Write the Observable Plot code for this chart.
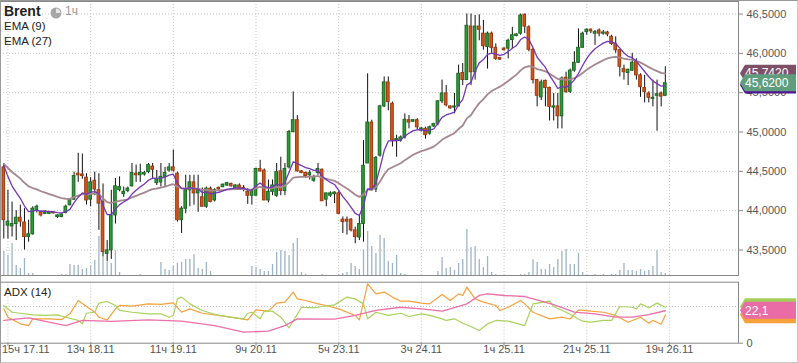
<!DOCTYPE html>
<html><head><meta charset="utf-8">
<script src="https://cdn.jsdelivr.net/npm/d3@7"></script>
<script src="https://cdn.jsdelivr.net/npm/@observablehq/plot@0.6"></script>
<style>
body{margin:0;background:#fff;}
#chart{position:relative;width:798px;height:363px;font-family:"Liberation Sans",Arial,sans-serif;overflow:hidden;background:#fff;}
#chart > svg.layer{position:absolute;left:0;top:0;}
.lg{position:absolute;white-space:nowrap;font-size:11.5px;color:#222;line-height:13px;}
#border{position:absolute;left:0;top:0;width:798px;height:363px;box-sizing:border-box;border:1px solid #c8c8c8;border-left-color:#999;border-top-color:#999;pointer-events:none;}
</style></head><body><div id="chart"></div>
<script>
// ---- data (hourly Brent candles, bar index 0..160) ----
const open = [44.55,43.81,43.80,43.83,43.91,43.85,43.665,43.70,44.00,43.98,
 43.96,43.96,43.98,43.92,43.92,43.97,44.07,44.14,44.47,44.46,
 44.42,44.14,44.38,44.26,44.11,43.45,43.495,43.94,44.26,44.21,
 44.25,44.31,44.47,44.45,44.46,44.49,44.56,44.35,44.36,44.43,
 44.51,44.55,44.47,43.88,44.025,44.26,44.36,44.22,44.17,44.05,
 44.28,44.13,44.29,44.30,44.32,44.34,44.29,44.32,44.29,44.24,
 44.19,44.19,44.53,44.51,44.13,44.24,44.19,44.50,44.25,44.55,
 45.00,45.15,44.50,44.48,44.45,44.38,44.48,44.52,44.14,44.19,
 44.21,44.22,43.885,43.885,43.885,43.75,43.66,43.83,44.60,45.12,
 44.27,44.70,45.325,45.63,45.36,44.89,44.89,44.93,45.15,45.13,
 45.15,45.02,45.04,44.98,45.07,45.105,45.39,45.49,45.325,45.31,
 45.325,45.75,45.66,46.34,45.76,46.34,46.25,46.08,46.25,46.07,
 45.94,46.06,46.06,46.17,46.22,46.25,46.49,46.33,46.045,45.66,
 45.44,45.65,45.56,45.31,45.325,45.20,45.69,45.51,45.78,45.88,
 46.07,46.27,46.30,46.25,46.29,46.25,46.265,46.21,46.12,46.04,
 45.80,45.75,45.78,45.89,45.72,45.56,45.49,45.42,45.46,45.49,
 45.46];
const high = [44.60,44.26,44.11,44.00,44.07,44.025,43.88,44.05,44.07,44.00,
 44.00,43.99,43.99,43.95,43.96,44.07,44.15,44.49,44.73,44.72,
 44.47,44.42,44.49,44.47,44.34,43.62,44.26,44.41,44.43,44.30,
 44.30,44.60,44.58,44.59,44.50,44.60,44.60,44.51,44.60,44.55,
 44.60,44.77,44.49,44.05,44.45,44.45,44.45,44.45,44.29,44.30,
 44.30,44.28,44.30,44.34,44.36,44.35,44.33,44.34,44.32,44.28,
 44.26,44.54,44.64,44.53,44.39,44.39,44.60,44.68,44.60,45.02,
 45.51,45.21,44.51,44.49,44.51,44.45,44.60,44.53,44.22,44.24,
 44.24,44.24,43.92,43.92,43.90,43.79,43.94,44.89,45.74,45.15,
 44.69,45.34,45.70,45.70,45.38,44.96,44.95,45.23,45.21,45.16,
 45.17,45.06,45.06,45.075,45.11,45.40,45.66,45.59,45.33,45.49,
 45.85,45.87,46.50,46.50,46.48,46.49,46.42,46.27,46.27,46.12,
 45.95,46.07,46.18,46.33,46.25,46.50,46.50,46.35,46.06,45.67,
 45.66,45.66,45.57,45.49,45.49,45.70,45.76,45.80,46.02,46.31,
 46.27,46.31,46.31,46.29,46.31,46.29,46.28,46.23,46.21,46.045,
 45.85,45.80,46.00,45.93,45.74,45.72,45.51,45.66,45.66,45.51,
 45.83];
const low = [43.64,43.64,43.665,43.62,43.79,43.50,43.60,43.69,43.97,43.92,
 43.95,43.95,43.96,43.90,43.91,43.96,44.06,44.13,44.36,44.40,
 44.07,44.05,44.19,43.75,43.41,43.35,43.38,43.83,44.24,44.17,
 44.23,44.30,44.36,44.36,44.44,44.47,44.41,44.32,44.30,44.30,
 44.49,44.49,43.855,43.71,43.96,44.05,44.07,43.98,44.05,44.03,
 44.10,44.11,44.26,44.29,44.31,44.30,44.28,44.26,44.24,44.08,
 44.07,44.19,44.49,44.13,44.10,44.19,44.17,44.19,44.19,44.53,
 44.99,44.49,44.47,44.41,44.39,44.36,44.45,44.12,44.05,44.17,
 44.09,43.95,43.71,43.69,43.73,43.58,43.62,43.60,44.60,44.25,
 44.23,44.68,45.31,45.27,44.81,44.68,44.87,44.91,45.04,45.12,
 45.02,45.00,44.91,44.96,45.06,45.08,45.36,45.32,45.29,45.23,
 45.32,45.59,45.66,45.59,45.66,46.16,46.04,45.80,46.00,45.91,
 45.91,46.03,45.93,46.06,46.21,46.23,46.25,46.02,45.61,45.32,
 45.40,45.32,45.14,45.14,45.04,45.04,45.49,45.49,45.76,45.87,
 46.07,46.23,46.25,46.10,46.21,46.23,46.21,46.10,46.00,45.70,
 45.66,45.59,45.77,45.66,45.44,45.37,45.37,45.32,45.01,45.32,
 45.45];
const close = [43.88,43.86,43.83,43.91,43.86,43.665,43.70,44.025,44.05,43.94,
 43.99,43.98,43.965,43.94,43.95,44.05,44.14,44.44,44.45,44.44,
 44.13,44.36,44.27,44.09,43.475,43.495,43.94,44.31,44.30,44.24,
 44.28,44.48,44.45,44.48,44.48,44.58,44.52,44.40,44.43,44.48,
 44.55,44.51,43.88,44.025,44.26,44.36,44.22,44.26,44.05,44.28,
 44.11,44.26,44.27,44.33,44.35,44.31,44.32,44.28,44.27,44.19,
 44.25,44.53,44.50,44.13,44.24,44.32,44.49,44.25,44.53,45.00,
 45.15,44.50,44.48,44.44,44.48,44.43,44.53,44.12,44.22,44.22,
 44.23,43.96,43.855,43.86,43.75,43.665,43.83,44.57,45.12,44.26,
 44.67,45.325,45.63,45.38,44.89,44.91,44.93,45.155,45.12,45.15,
 45.06,45.045,44.96,45.06,45.10,45.39,45.49,45.34,45.30,45.325,
 45.74,45.66,46.35,45.76,46.34,46.30,46.09,46.25,46.07,45.93,
 45.92,46.04,46.16,46.23,46.24,46.48,46.34,46.045,45.66,45.46,
 45.63,45.56,45.32,45.325,45.20,45.68,45.51,45.78,45.88,46.07,
 46.25,46.30,46.28,46.27,46.25,46.265,46.24,46.12,46.04,45.83,
 45.76,45.79,45.88,45.72,45.57,45.51,45.435,45.435,45.48,45.45,
 45.62];
const volume = [24,20,32,10,7,17,2,2,0,0,
 0,0,0,0,1,1,11,10,10,6,
 7,10,15,39,18,13,12,25,3,0,
 0,0,0,1,0,0,0,0,13,6,
 5,9,12,13,16,16,21,7,6,13,
 4,0,0,0,0,0,0,0,0,0,
 9,8,6,4,4,11,23,25,24,20,
 32,37,3,1,0,0,0,1,0,0,
 0,1,2,3,12,9,6,26,44,29,
 22,40,37,14,12,20,2,1,0,0,
 0,0,0,0,0,4,18,7,8,5,
 12,16,46,28,29,16,8,19,3,1,
 0,0,0,0,0,1,1,3,16,13,
 6,6,11,8,16,24,26,11,11,22,
 3,0,0,1,0,1,0,1,1,5,
 12,5,5,4,6,4,5,9,25,3,
 2];
// EMA values just before the first visible bar: [EMA(9), EMA(27)]
const emaSeed = [44.75, 44.65];

// ADX(14) panel, read at selected bars
const adxBar = [0,6,15,19,26,35,43,51,58,64,68,71,80,85,90,96,101,106,108,112,115,117,121,126,130,133,138,143,148,152,156,160];
const adxVal = [15.5,17.3,12.0,15.5,14.8,15.9,15.0,12.0,7.5,8.2,12.0,16.6,16.4,18.9,22.3,24.5,23.4,21.8,23.4,26.8,32.5,33.6,32.5,31.8,28.6,26.3,21.1,20.0,17.7,17.7,19.5,22.1];
const plusDiBar = [0,1,4,6,7,11,14,16,18,20,22,23,25,27,28,31,35,38,41,43,45,48,52,56,59,61,64,66,68,70,71,73,76,78,81,85,86,88,90,92,94,96,98,101,103,106,108,110,111,112,114,116,119,120,122,125,126,128,132,135,137,139,142,145,148,151,154,156,157,159,160];
const plusDiVal = [23.4,17.7,13.2,12.0,16.6,16.6,16.1,20.0,29.1,25.0,21.1,17.7,15.9,23.4,25.7,25.2,26.8,26.4,27.5,21.1,23.4,20.4,18.9,17.3,15.9,22.7,21.8,27.3,28.0,34.8,30.2,29.1,26.8,25.7,23.4,18.9,15.9,40.4,33.6,34.8,31.4,28.6,28.6,27.3,26.8,33.2,29.1,33.6,32.5,38.2,30.2,28.0,25.7,22.3,24.5,29.1,26.8,21.1,16.6,17.7,16.6,22.7,21.8,21.1,18.9,14.3,17.7,13.6,15.5,12.9,19.1];
const minusDiBar = [0,2,4,7,10,13,15,18,19,20,22,23,25,27,28,31,35,38,40,41,42,43,45,48,52,56,58,59,60,62,63,65,67,69,72,75,77,80,83,85,87,88,90,93,96,98,101,103,106,107,109,111,113,115,117,119,122,126,128,132,133,136,140,142,145,147,149,152,153,154,156,158,160];
const minusDiVal = [25.7,21.1,20.4,19.3,18.9,19.3,17.7,15.5,13.2,20.4,21.1,27.3,28.4,25.7,22.3,21.1,20.0,20.0,17.7,18.9,30.2,31.4,26.8,22.3,18.9,17.3,16.6,20.4,21.1,16.6,21.8,21.8,17.7,10.5,24.5,24.1,25.0,26.1,31.4,30.2,26.8,16.6,21.1,18.9,20.4,18.2,20.0,18.9,16.6,15.5,16.6,13.6,11.4,8.6,13.2,15.5,15.0,12.0,26.8,28.6,25.0,21.1,15.0,14.3,15.5,15.5,25.0,24.5,23.4,26.8,24.1,27.3,24.5];

const tickBars = [1,21,41,61,81,101,121,141,161];
const tickLabels = ["15ч 17.11","13ч 18.11","11ч 19.11","9ч 20.11","5ч 23.11","3ч 24.11","1ч 25.11","21ч 25.11","19ч 26.11"];
const priceTicks = [43.5,44,44.5,45,45.5,46,46.5];

// ---- derived ----
function ema(values, n, seed){ const a = 2/(n+1); let e = seed; return values.map(v => (e = e + a*(v - e))); }
const ema9 = ema(close, 9, emaSeed[0]);
const ema27 = ema(close, 27, emaSeed[1]);
const idx = d3.range(close.length);
const last = close.length - 1;

const W = 798, H = 363;
const xDomain = [-0.8, 177.7];
const font = "Liberation Sans, Arial, sans-serif";
const baseStyle = {background: "transparent", fontFamily: font, fontSize: "11px", color: "#555", overflow: "visible"};
const fmt4 = d => d.toFixed(4).replace(".", ",");
const fmt1 = d => d.toFixed(1).replace(".", ",");
const dotted = {stroke: "#c4c4c4", strokeOpacity: 1, strokeDasharray: "1,2"};

function tag(value, color, text, h){
  return (index, scales, values, dims) => {
    const y = scales.y(value);
    const x0 = dims.width - dims.marginRight + 2;
    const x1 = dims.width - 2;
    const g = d3.create("svg:g");
    g.append("path").attr("d", `M${x0},${y}L${x0+5},${y-h/2}H${x1}V${y+h/2}H${x0+5}Z`).attr("fill", color);
    if (text) g.append("text").attr("x", x0+5).attr("y", y).attr("dy", "0.36em")
      .attr("text-anchor", "start")
      .attr("fill", "#fff").attr("font-size", 12).attr("font-family", font).text(text);
    return g.node();
  };
}

const up = i => close[i] >= open[i];

const volPlot = Plot.plot({
  width: W, height: H, marginLeft: 0, marginRight: 60, marginTop: 1, marginBottom: 88,
  x: {domain: xDomain, axis: null},
  y: {domain: [0, 50], range: [275, 225], axis: null},
  style: {...baseStyle, background: "#fff"},
  marks: [
    Plot.ruleX(idx.filter(i => volume[i] > 0), {x: i => i, y1: 0, y2: i => volume[i], stroke: "#9fb3c6", strokeWidth: 1.3})
  ]
});

const mainPlot = Plot.plot({
  width: W, height: H, marginLeft: 0, marginRight: 60, marginTop: 1, marginBottom: 88,
  x: {domain: xDomain, axis: null},
  y: {domain: [43.176, 46.659], axis: null},
  style: baseStyle,
  marks: [
    Plot.gridY(priceTicks, dotted),
    Plot.gridX(tickBars, dotted),
    Plot.ruleX(idx, {x: i => i, y1: i => low[i], y2: i => high[i], stroke: "#111", strokeWidth: 1}),
    Plot.rect(idx, {x1: i => i - 0.32, x2: i => i + 0.32,
      y1: i => Math.min(open[i], close[i]), y2: i => Math.max(open[i], close[i]),
      fill: i => up(i) ? "#2f9a3a" : "#d4561e", stroke: i => up(i) ? "#1b6a22" : "#9c3a10", strokeWidth: 1}),
    Plot.line(idx, {x: i => i, y: i => ema27[i], stroke: "#a4878f", strokeWidth: 1.8}),
    Plot.line(idx, {x: i => i, y: i => ema9[i], stroke: "#7436b8", strokeWidth: 1.3}),
    Plot.frame({stroke: "#888"}),
    Plot.axisY(priceTicks, {anchor: "right", tickSize: 4, tickPadding: 4, tickFormat: fmt4, fill: "#555", stroke: "#888", fontSize: 11}),
    tag(ema27[last], "#7e5068", fmt4(ema27[last]), 17),
    tag(ema9[last], "#4e1594", fmt4(ema9[last]), 17),
    tag(close[last], "#5f9e7c", fmt4(close[last]), 17)
  ]
});

const adxPlot = Plot.plot({
  width: W, height: H, marginLeft: 0, marginRight: 60, marginTop: 281.7, marginBottom: 20.3,
  x: {domain: xDomain, axis: null},
  y: {domain: [0, 41.55], axis: null},
  style: baseStyle,
  marks: [
    Plot.gridY([25], dotted),
    Plot.gridX(tickBars, dotted),
    Plot.line(plusDiBar, {x: d => d, y: (d, i) => plusDiVal[i], stroke: "#f6a13b", strokeWidth: 1.2}),
    Plot.line(minusDiBar, {x: d => d, y: (d, i) => minusDiVal[i], stroke: "#a8d25c", strokeWidth: 1.2}),
    Plot.line(adxBar, {x: d => d, y: (d, i) => adxVal[i], stroke: "#ec6fa9", strokeWidth: 1.3}),
    Plot.frame({stroke: "#888"}),
    Plot.axisY([0], {anchor: "right", tickSize: 4, tickPadding: 4, tickFormat: d => "0", fill: "#555", stroke: "#888", fontSize: 11}),
    Plot.axisX(tickBars, {tickSize: 3, tickFormat: () => "", stroke: "#888"}),
    Plot.text(tickLabels.slice(0, 1), {x: () => tickBars[0], frameAnchor: "bottom", dy: 10, dx: -6, textAnchor: "start", fill: "#555", fontSize: 11}),
    Plot.text(tickLabels.slice(1), {x: (d, i) => tickBars[i + 1], frameAnchor: "bottom", dy: 10, textAnchor: "middle", fill: "#555", fontSize: 11}),
    tag(plusDiVal[plusDiVal.length - 1], "#f6a13b", "", 17),
    tag(minusDiVal[minusDiVal.length - 1], "#a3cf58", "", 17),
    tag(adxVal[adxVal.length - 1], "#e96ca6", fmt1(adxVal[adxVal.length - 1]), 17)
  ]
});

const chart = document.getElementById("chart");
for (const p of [volPlot, mainPlot, adxPlot]) { p.classList.add("layer"); chart.appendChild(p); }

const legend = document.createElement("div");
legend.innerHTML = `
<div class="lg" style="left:4px;top:3px;font-weight:bold;font-size:14px;line-height:16px;">Brent</div>
<svg style="position:absolute;left:50px;top:7px" width="12" height="12"><circle cx="6" cy="6" r="5.5" fill="#a6a6a6"/><path d="M6,6V1.5A4.5,4.5 0 0 1 10.5,6Z" fill="#e6e6e6"/></svg>
<div class="lg" style="left:65px;top:5px;font-size:12px;color:#999;">1ч</div>
<div class="lg" style="left:4px;top:20px;">EMA (9)</div>
<div class="lg" style="left:4px;top:35px;">EMA (27)</div>
<div class="lg" style="left:4px;top:286px;">ADX (14)</div>`;
while (legend.firstChild) chart.appendChild(legend.firstChild);
const border = document.createElement("div"); border.id = "border"; chart.appendChild(border);
</script></body></html>
